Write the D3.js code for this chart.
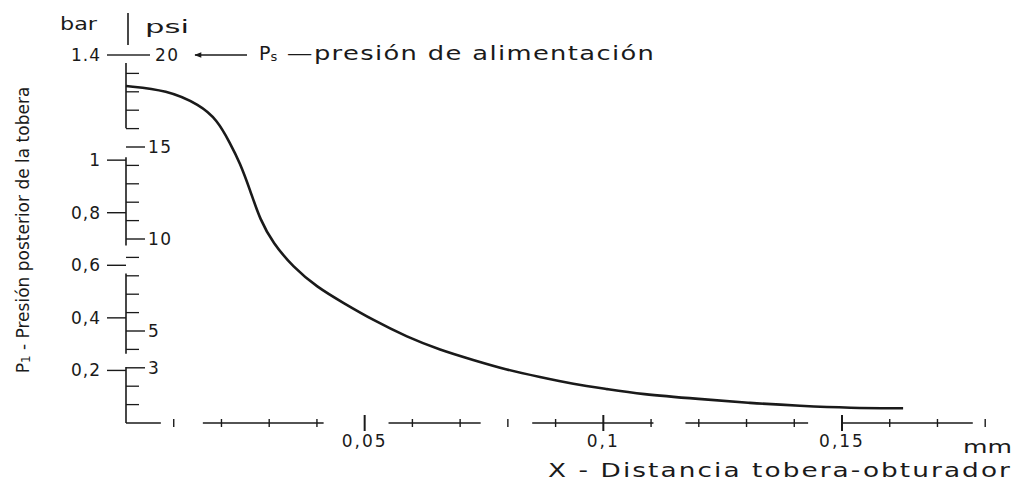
<!DOCTYPE html>
<html>
<head>
<meta charset="utf-8">
<script src="https://cdn.jsdelivr.net/npm/d3@7"></script>
<style>
	body { margin: 0; background: #fff; }
	text { font-family: "DejaVu Sans", sans-serif; fill: #1a1a1a; }
</style>
</head>
<body>
<div id="chart-area"></div>
<script>

// curva P1 (bar) frente a X (mm)
const distMm = [0, 0.0086, 0.0155, 0.0191, 0.0218, 0.0239, 0.0260, 0.0281, 0.0308, 0.0350, 0.0400,
	0.0455, 0.0517, 0.0589, 0.0658, 0.0727, 0.0798, 0.0867, 0.0937, 0.1008, 0.1077,
	0.1203, 0.1307, 0.1412, 0.1517, 0.1628];
const presBar = [1.282, 1.267, 1.210, 1.153, 1.065, 0.989, 0.886, 0.772, 0.685, 0.593, 0.517,
	0.457, 0.392, 0.327, 0.278, 0.240, 0.202, 0.175, 0.148, 0.129, 0.110,
	0.091, 0.076, 0.065, 0.057, 0.056];

// ejes
const barTicks = [0.2, 0.4, 0.6, 0.8, 1, 1.4];
const barLabels = ["0,2", "0,4", "0,6", "0,8", "1", "1.4"];
const psiTicks = [3, 5, 10, 15, 20];
const psiMinor = [1, 2, 4, 6, 7, 8, 9, 11, 12, 13, 14, 16, 17, 18, 19];
const xTicks = [0.05, 0.1, 0.15];
const xLabels = ["0,05", "0,1", "0,15"];
const xMinor = [0.01, 0.02, 0.03, 0.04, 0.06, 0.07, 0.08, 0.09, 0.11, 0.12, 0.13, 0.14, 0.16, 0.17, 0.18];
// tramos visibles de los ejes (el dibujo original está cortado)
const xSegments = [[0, 0.0073], [0.0161, 0.0414], [0.055, 0.0743], [0.0851, 0.1105], [0.1172, 0.1429], [0.1502, 0.1774]];
const psiSegments = [[19.56, 16.02], [14.44, 9.65], [8.12, 3.76], [3.05, 0]];

const width = 1036, height = 485;
const ink = "#1a1a1a";

var svg = d3.select("#chart-area").append("svg")
	.attr("width", width)
	.attr("height", height);

var x = d3.scaleLinear().domain([0, 0.15]).range([126, 842]);
var yBar = d3.scaleLinear().domain([0, 1.4]).range([423, 55]);
var yPsi = d3.scaleLinear().domain([0, 20]).range([423, 55]);
const x0 = x(0), y0 = yBar(0);

// eje vertical (tramos)
svg.selectAll(".yseg")
	.data(psiSegments)
	.enter().append("line")
	.attr("x1", x0).attr("x2", x0)
	.attr("y1", d => yPsi(d[0]))
	.attr("y2", d => yPsi(d[1]))
	.attr("stroke", ink)
	.attr("stroke-width", 1.6);

// separador bar | psi
svg.append("line")
	.attr("x1", x0 + 2).attr("x2", x0 + 2)
	.attr("y1", 13).attr("y2", 45)
	.attr("stroke", ink).attr("stroke-width", 1.6);
svg.append("text").attr("x", 60).attr("y", 24)
	.attr("textLength", 37).attr("lengthAdjust", "spacingAndGlyphs")
	.attr("dominant-baseline", "central").style("font-size", "17px").text("bar");
svg.append("text").attr("x", 145).attr("y", 27)
	.attr("textLength", 44).attr("lengthAdjust", "spacingAndGlyphs")
	.attr("dominant-baseline", "central").style("font-size", "17px").text("psi");

// ticks bar (izquierda)
svg.selectAll(".bartick")
	.data(barTicks)
	.enter().append("line")
	.attr("x1", x0 - 19).attr("x2", x0)
	.attr("y1", d => yBar(d)).attr("y2", d => yBar(d))
	.attr("stroke", ink).attr("stroke-width", 1.4);
svg.selectAll(".barlabel")
	.data(barTicks)
	.enter().append("text")
	.attr("x", x0 - 25)
	.attr("y", d => yBar(d))
	.attr("text-anchor", "end")
	.attr("dominant-baseline", "central")
	.style("font-size", "17px")
	.style("letter-spacing", "1px")
	.text((d, i) => barLabels[i]);

// ticks psi (derecha)
svg.selectAll(".psitick")
	.data(psiTicks)
	.enter().append("line")
	.attr("x1", x0).attr("x2", d => x0 + (d == 20 ? 24 : 19))
	.attr("y1", d => yPsi(d)).attr("y2", d => yPsi(d))
	.attr("stroke", ink).attr("stroke-width", 1.4);
svg.selectAll(".psiminor")
	.data(psiMinor)
	.enter().append("line")
	.attr("x1", x0).attr("x2", x0 + 13)
	.attr("y1", d => yPsi(d)).attr("y2", d => yPsi(d))
	.attr("stroke", ink).attr("stroke-width", 1.3);
svg.selectAll(".psilabel")
	.data(psiTicks)
	.enter().append("text")
	.attr("x", d => x0 + (d == 20 ? 29 : 22))
	.attr("y", d => yPsi(d))
	.attr("dominant-baseline", "central")
	.style("font-size", "17px")
	.style("letter-spacing", "1.5px")
	.text(d => d);

// flecha Ps
svg.append("defs").append("marker")
	.attr("id", "arrow")
	.attr("viewBox", "0 0 10 10")
	.attr("refX", 9).attr("refY", 5)
	.attr("markerWidth", 7).attr("markerHeight", 5)
	.attr("orient", "auto")
	.append("path").attr("d", "M0,1 L10,5 L0,9 z").attr("fill", ink);
svg.append("line")
	.attr("x1", 247).attr("x2", 195)
	.attr("y1", yBar(1.4)).attr("y2", yBar(1.4))
	.attr("stroke", ink).attr("stroke-width", 1.4)
	.attr("marker-end", "url(#arrow)");
var ps = svg.append("text")
	.attr("x", 259).attr("y", yBar(1.4) - 2)
	.attr("dominant-baseline", "central")
	.style("font-size", "19px");
ps.append("tspan").text("P");
ps.append("tspan").attr("dy", 3).style("font-size", "13px").text("s");
ps.append("tspan").attr("dy", -3).text(" —presión  de alimentación")
	.attr("textLength", 378).attr("lengthAdjust", "spacingAndGlyphs")
	.style("letter-spacing", "1px");

// eje x (tramos)
svg.selectAll(".xseg")
	.data(xSegments)
	.enter().append("line")
	.attr("x1", d => x(d[0])).attr("x2", d => x(d[1]))
	.attr("y1", y0).attr("y2", y0)
	.attr("stroke", ink).attr("stroke-width", 1.6);
svg.selectAll(".xminor")
	.data(xMinor)
	.enter().append("line")
	.attr("x1", d => x(d)).attr("x2", d => x(d))
	.attr("y1", y0 - 4).attr("y2", y0 + 4)
	.attr("stroke", ink).attr("stroke-width", 1.4);
svg.selectAll(".xtick")
	.data(xTicks)
	.enter().append("line")
	.attr("x1", d => x(d)).attr("x2", d => x(d))
	.attr("y1", y0 - 8).attr("y2", y0 + 8)
	.attr("stroke", ink).attr("stroke-width", 2);
svg.selectAll(".xlabel")
	.data(xTicks)
	.enter().append("text")
	.attr("x", d => x(d))
	.attr("y", y0 + 18)
	.attr("text-anchor", "middle")
	.attr("dominant-baseline", "central")
	.style("font-size", "17px")
	.style("letter-spacing", "2px")
	.text((d, i) => xLabels[i]);
svg.append("text")
	.attr("x", 963).attr("y", y0 + 24)
	.attr("dominant-baseline", "central")
	.attr("textLength", 49).attr("lengthAdjust", "spacingAndGlyphs")
	.style("font-size", "17px")
	.text("mm");
svg.append("text")
	.attr("x", 548).attr("y", 470)
	.attr("dominant-baseline", "central")
	.attr("textLength", 464).attr("lengthAdjust", "spacingAndGlyphs")
	.style("font-size", "19px")
	.style("letter-spacing", "1.5px")
	.text("X  - Distancia tobera-obturador");

// título eje y
var yt = svg.append("text")
	.attr("transform", "translate(23,230) rotate(-90)")
	.attr("text-anchor", "middle")
	.attr("dominant-baseline", "central")
	.style("font-size", "17px");
yt.append("tspan").text("P");
yt.append("tspan").attr("dy", 3).style("font-size", "12px").text("1");
yt.append("tspan").attr("dy", -3).text(" - Presión posterior de la tobera");

// curva
var line = d3.line()
	.x((d, i) => x(distMm[i]))
	.y(d => yBar(d))
	.curve(d3.curveBasis);

svg.append("path")
	.datum(presBar)
	.attr("fill", "none")
	.attr("stroke", ink)
	.attr("stroke-width", 2.6)
	.attr("d", line);

</script>
</body>
</html>
